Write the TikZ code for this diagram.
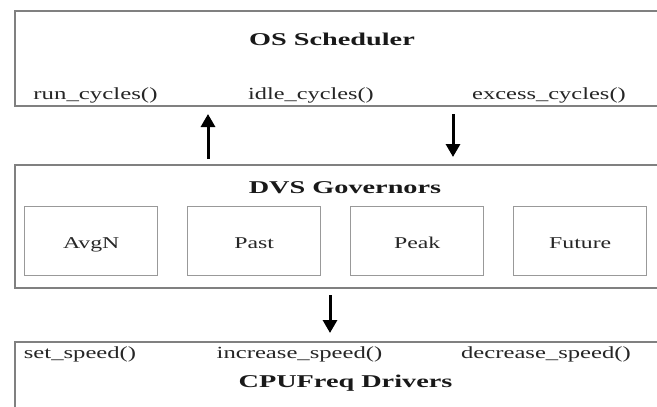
\documentclass[tikz,border=0pt]{standalone}
\usepackage{graphicx}
\usepackage{fontspec}
\setmainfont{Liberation Serif}
\usetikzlibrary{arrows.meta}

% horizontally widened text
\newcommand\widetext[2]{\scalebox{#1}[1]{#2}}

\begin{document}
\begin{tikzpicture}[x=1pt,y=-1pt,
  layer/.style={draw=black!50, line width=2pt, fill=none, inner sep=0pt, anchor=north west},
  govbox/.style={draw=black!40, line width=1.4pt, inner sep=0pt, anchor=north west,
                 minimum width=133pt, minimum height=69pt},
  title/.style={anchor=base, inner sep=0pt, text=black!90, font=\fontsize{18}{18}\selectfont\bfseries},
  func/.style={anchor=base, inner sep=0pt, text=black!85, font=\fontsize{17}{17}\selectfont},
  gname/.style={anchor=base, inner sep=0pt, text=black!85, font=\fontsize{16.5}{16.5}\selectfont},
  arr/.style={draw=black, line width=3pt, -{Triangle[length=13pt,width=14pt]}}
]
\useasboundingbox (0,0) rectangle (657,407);
\fill[white] (0,0) rectangle (657,407);
\clip (0,0) rectangle (657,407);

% layers
\node[layer, minimum width=666pt, minimum height=95pt]  (os)  at (14,10)  {};
\node[layer, minimum width=666pt, minimum height=123pt] (dvs) at (14,164) {};
\node[layer, minimum width=666pt, minimum height=90pt]  (cpu) at (14,341) {};

% OS scheduler texts
\node[title] (ostitle) at (332,45) {\widetext{1.57}{OS Scheduler}};
\node[func] (run)    at (95.5,99) {\widetext{1.46}{run\_cycles()}};
\node[func] (idle)   at (311,99)  {\widetext{1.43}{idle\_cycles()}};
\node[func] (excess) at (549,99)  {\widetext{1.44}{excess\_cycles()}};

% governors
\node[title] (dvstitle) at (345,193) {\widetext{1.57}{DVS Governors}};
\node[govbox] (avgn)   at (24,206)  {};
\node[govbox] (past)   at (187,206) {};
\node[govbox] (peak)   at (350,206) {};
\node[govbox] (future) at (513,206) {};
\node[gname] at ([yshift=-7.5pt]avgn.center)   {\widetext{1.44}{AvgN}};
\node[gname] at ([yshift=-7.5pt]past.center)   {\widetext{1.44}{Past}};
\node[gname] at ([yshift=-7.5pt]peak.center)   {\widetext{1.44}{Peak}};
\node[gname] at ([yshift=-7.5pt]future.center) {\widetext{1.44}{Future}};

% CPUFreq drivers texts
\node[func] (setsp) at (80,358)    {\widetext{1.45}{set\_speed()}};
\node[func] (incsp) at (299.5,358) {\widetext{1.45}{increase\_speed()}};
\node[func] (decsp) at (546,358)   {\widetext{1.45}{decrease\_speed()}};
\node[title] (cputitle) at (345.5,387) {\widetext{1.57}{CPUFreq Drivers}};

% arrows between layers
\coordinate (upx) at (208,0);
\coordinate (downx) at (453,0);
\coordinate (midx) at (330,0);
\draw[arr, shorten <=5pt, shorten >=7pt] (dvs.north -| upx) -- (os.south -| upx);
\draw[arr, shorten <=7pt, shorten >=7pt] (os.south -| downx) -- (dvs.north -| downx);
\draw[arr, shorten <=6pt, shorten >=8pt] (dvs.south -| midx) -- (cpu.north -| midx);
\end{tikzpicture}
\end{document}
